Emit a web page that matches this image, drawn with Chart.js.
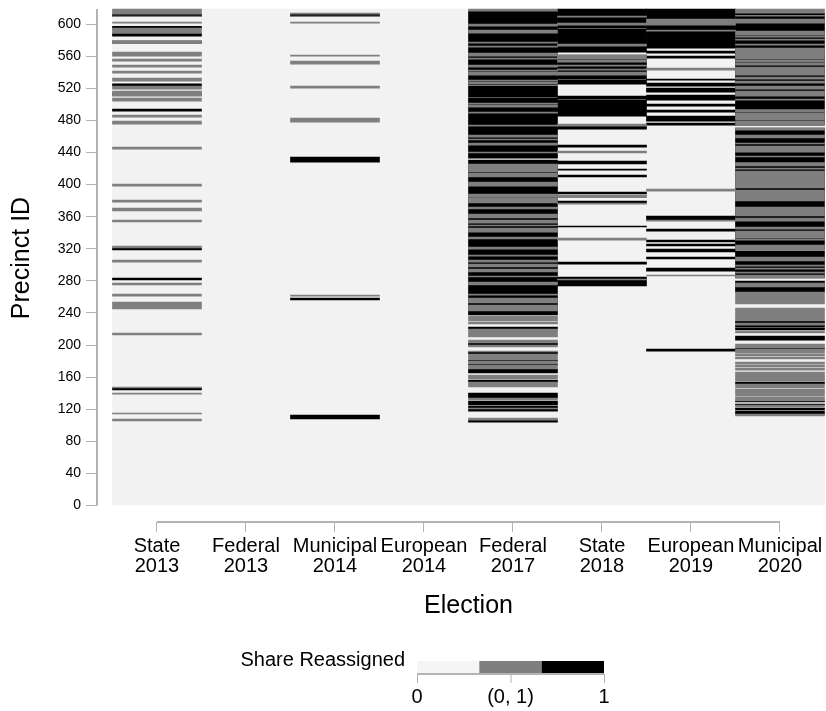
<!DOCTYPE html>
<html>
<head>
<meta charset="utf-8">
<style>
  html, body { margin: 0; padding: 0; background: #fff; }
  canvas { display: block; }
</style>
<script src="https://cdn.jsdelivr.net/npm/chart.js@4/dist/chart.umd.min.js"></script>
</head>
<body>
<canvas id="chart" width="826" height="711"></canvas>
<script>
// Precinct id runs, each as [high, low]
const elections = [['State', '2013'], ['Federal', '2013'], ['Municipal', '2014'], ['European', '2014'], ['Federal', '2017'], ['State', '2018'], ['European', '2019'], ['Municipal', '2020']];
const maxPrecinct = 618.7;

const grayState2013 = [[618.7,612.5],[610,609.1],[602.5,601.2],[595,588.4],[579.6,575.5],[565.1,560.1],[556.4,553.9],[548.9,546.4],[541.4,538.9],[532.7,529],[522.7,519],[516.5,510.3],[507.8,504],[486.6,484.1],[479.1,475.4],[446.7,444.2],[400.6,398.1],[380.7,378.2],[370.7,367],[355.8,353.3],[323.4,320.9],[305.9,303.4],[277.3,274.8],[263.5,261],[253.6,244.9],[215,212.5],[147.6,146.4],[140.2,138.9],[115.3,114],[107.8,105.3]];
const blackState2013 = [[612.5,609.1],[597.1,595],[588.4,585],[578.8,576.3],[525.6,522.7],[514,511.5],[494,491.6],[320.9,318.4],[283.5,281],[146.4,143.9]];

const grayMunicipal2014 = [[613.7,612.5],[610,609.1],[602.5,601.2],[561.4,560.1],[553.9,550.1],[522.7,520.2],[482.9,477.9],[262.3,261]];
const blackMunicipal2014 = [[612.5,610],[434.2,428],[258.6,256.1],[112.8,107.8]];

const grayFederal2017 = [[618.7,616.2],[600,597.5],[592.5,588.8],[577.6,576.3],[572.6,571.3],[563.9,560.1],[557.6,556.4],[548.9,546.4],[542.7,541.4],[540.2,536.4],[530.2,529],[527.7,525.2],[501.5,500.3],[499,496.6],[490.3,489.1],[474.1,472.9],[461.7,459.2],[456.7,455.5],[451.7,449.2],[440.5,439.3],[425.6,415.6],[414.3,409.4],[403.1,398.1],[388.2,384],[383.2,377],[372,369.5],[363.3,358.3],[355.8,352],[349.5,348.3],[345.8,340.8],[334.6,332.1],[322.1,319.6],[312.1,310.9],[305.9,303.4],[300.9,297.2],[294.7,291],[286,284.8],[278.5,274.8],[263.6,262.3],[258.6,252.4],[249.9,242.4],[236.2,229.9],[228.7,226.2],[220,210],[206.3,202.5],[200,197.5],[192.6,191.3],[188.8,181.3],[180.1,176.4],[175.1,170.1],[162.6,157.7],[153.9,147.7],[134,131.5],[121.5,120.3],[109,106.5]];
const blackFederal2017 = [[616.2,524.4],[523.1,509],[507.8,433],[430.5,237.4],[222.5,220],[202.5,200],[191.3,188.8],[181.3,180.1],[176.4,175.1],[170.1,165.1],[156.4,153.9],[140.2,134],[130.2,125.3],[124,121.5],[120.3,117.7],[106.5,104]];

const grayState2018 = [[610,608.7],[601.2,598.7],[575,572.6],[561.4,556.4],[555.1,552.6],[548.9,547.6],[543.9,542.7],[540.2,536.4],[475.4,472.9],[441.8,439.3],[386.9,383.6],[377,375.7],[333.3,330.8],[282.3,281]];
const blackState2018 = [[618.7,595],[593.8,565.1],[561.4,531.4],[530.2,525.2],[510.3,506.5],[505.3,485.3],[472.9,469.1],[449.2,446.7],[429.3,425.6],[419.3,418],[411.9,409.4],[390.7,388.2],[379.5,377],[348.3,347.1],[303.4,300.9],[284.8,273.6]];

const grayEuropean2019 = [[606.2,598.7],[592.5,591.3],[545.2,542.7],[394.4,391.9],[355.8,354.5],[287.2,286]];
const blackEuropean2019 = [[618.7,570.1],[566.3,563.9],[560.1,557.6],[531.4,530.2],[526.5,522.7],[520.2,515.2],[511.5,505.3],[500.3,497.8],[492.8,490.3],[485.3,479.1],[476.6,474.1],[360.8,355.8],[344.5,342],[330.8,328.4],[325.9,323.4],[319.6,315.9],[309.7,307.2],[295.9,292.2],[195,192.5]];

const grayMunicipal2020 = [[618.7,613.7],[611,609.9],[606.2,601.2],[591.3,586.3],[585,583.8],[581.3,580],[575,573.8],[570.1,556.4],[555.1,552.6],[551.4,548.9],[546.4,536.4],[533.9,531.4],[528.9,526.5],[522.7,519],[516.5,510.3],[506.5,505.3],[492.8,490.3],[489,480.4],[479.1,474.1],[470.4,467.9],[461.7,458],[451.7,450.5],[448,440.5],[435.5,434.3],[426.8,423.1],[420.6,419.3],[416.8,395.7],[393.2,379.5],[372,360.8],[358.3,354.5],[347,344.5],[342,333.3],[332.1,330.8],[324.6,318.4],[309.7,304.7],[299.7,298.4],[295.9,294.7],[291,289.7],[287.2,283.5],[277.3,272.3],[266,251.1],[246.1,229.9],[227.4,224.9],[217.4,215],[201.2,196.3],[195,190],[188.8,186.3],[185,182.6],[178.8,176.3],[175.1,172.6],[171.3,168.8],[166.3,155.1],[151.4,146.4],[145.2,136.4],[135.2,130.2],[125.2,122.7],[114,111.5]];
const blackMunicipal2020 = [[613.7,494],[492.8,474.1],[470.4,428],[426.8,318.4],[317.1,283.5],[279.8,272.3],[272.3,266],[229.9,227.4],[224.9,222.4],[221.2,218.7],[211.2,206.2],[196.3,195],[153.9,151.4],[130.2,129],[126.5,125.2],[121.5,119],[117.7,114]];

const grayRuns = [grayState2013, [], grayMunicipal2014, [], grayFederal2017, grayState2018, grayEuropean2019, grayMunicipal2020];
const blackRuns = [blackState2013, [], blackMunicipal2014, [], blackFederal2017, blackState2018, blackEuropean2019, blackMunicipal2020];

const yTicksStep = 40;
const legendTitle = 'Share Reassigned';
const legendLabels = ['0', '(0, 1)', '1'];
const legendColors = ['#f5f5f5', '#7f7f7f', '#000000'];
const axisColor = '#b3b3b3';

function toPoints(runs) {
  return runs.flatMap((list, i) => list.map(([hi, lo]) => ({ x: i, y: [lo, hi] })));
}

const barOpts = { barPercentage: 1, categoryPercentage: 1, grouped: false, borderWidth: 0 };

// axis lines and titles sit away from the cells, so they are drawn here from the scales
const axisLines = {
  id: 'axisLines',
  afterDraw(chart) {
    const { ctx, scales: { x, y } } = chart;
    ctx.save();
    ctx.strokeStyle = axisColor;
    ctx.lineWidth = 2;
    ctx.beginPath();
    ctx.moveTo(y.right, y.getPixelForValue(maxPrecinct));
    ctx.lineTo(y.right, y.getPixelForValue(0));
    ctx.moveTo(x.getPixelForValue(0), x.top);
    ctx.lineTo(x.getPixelForValue(elections.length - 1), x.top);
    ctx.stroke();

    // titles
    ctx.fillStyle = '#000';
    ctx.font = '25px "Liberation Sans"';
    ctx.textAlign = 'center';
    ctx.textBaseline = 'middle';
    ctx.fillText('Election', x.getPixelForValue((elections.length - 1) / 2), 606);
    ctx.translate(22, 258);
    ctx.rotate(-Math.PI / 2);
    ctx.fillText('Precinct ID', 0, 0);
    ctx.restore();

    // legend
    ctx.save();
    const left = 417, right = 604, top = 661, bottom = 673;
    const w = (right - left) / legendColors.length;
    legendColors.forEach((c, i) => {
      ctx.fillStyle = c;
      ctx.fillRect(left + i * w, top, w, bottom - top);
    });
    ctx.strokeStyle = axisColor;
    ctx.lineWidth = 2;
    ctx.beginPath();
    ctx.moveTo(left, bottom + 1);
    ctx.lineTo(right, bottom + 1);
    ctx.stroke();
    ctx.lineWidth = 1;
    ctx.font = '20px "Liberation Sans"';
    ctx.fillStyle = '#000';
    ctx.textBaseline = 'middle';
    ctx.textAlign = 'center';
    legendLabels.forEach((label, i) => {
      const px = left + (right - left) * i / (legendLabels.length - 1);
      ctx.beginPath();
      ctx.moveTo(px + 0.5, bottom + 1);
      ctx.lineTo(px + 0.5, bottom + 10);
      ctx.stroke();
      ctx.fillText(label, px, 697);
    });
    ctx.textAlign = 'right';
    ctx.fillText(legendTitle, 405, 660);
    ctx.restore();
  }
};

new Chart(document.getElementById('chart').getContext('2d'), {
  type: 'bar',
  data: {
    datasets: [
      { label: '(0, 1)', data: toPoints(grayRuns), backgroundColor: '#7f7f7f', order: 1, ...barOpts },
      { label: '1', data: toPoints(blackRuns), backgroundColor: '#000000', order: 2, ...barOpts },
      { label: '0', data: elections.map((_, i) => ({ x: i, y: [0, maxPrecinct] })), backgroundColor: '#f2f2f2', order: 3, ...barOpts },
    ],
  },
  plugins: [axisLines],
  options: {
    responsive: false,
    animation: false,
    layout: { padding: { top: 7, left: 0, right: 0, bottom: 90 } },
    plugins: { legend: { display: false }, tooltip: { enabled: false } },
    scales: {
      x: {
        type: 'linear',
        offset: false,
        min: -0.674,
        max: 7.517,
        afterFit: s => { s.height = 99; s.paddingLeft = 0; s.paddingRight = 0; },
        border: { display: false },
        grid: { offset: false, drawOnChartArea: false, tickLength: 10, color: axisColor },
        ticks: {
          stepSize: 1,
          includeBounds: false,
          autoSkip: false,
          maxRotation: 0,
          padding: 4,
          color: '#000',
          font: { size: 20, family: '"Liberation Sans"', lineHeight: 1 },
          callback: v => elections[v],
        },
      },
      y: {
        min: -20.56,
        max: 621.3,
        afterFit: s => { s.width = 97; s.paddingTop = 0; s.paddingBottom = 0; },
        border: { display: false },
        grid: { drawOnChartArea: false, tickLength: 11, color: axisColor },
        ticks: {
          stepSize: yTicksStep,
          includeBounds: false,
          autoSkip: false,
          padding: 5,
          color: '#000',
          font: { size: 14, family: '"Liberation Sans"' },
        },
      },
    },
  },
});
</script>
</body>
</html>
